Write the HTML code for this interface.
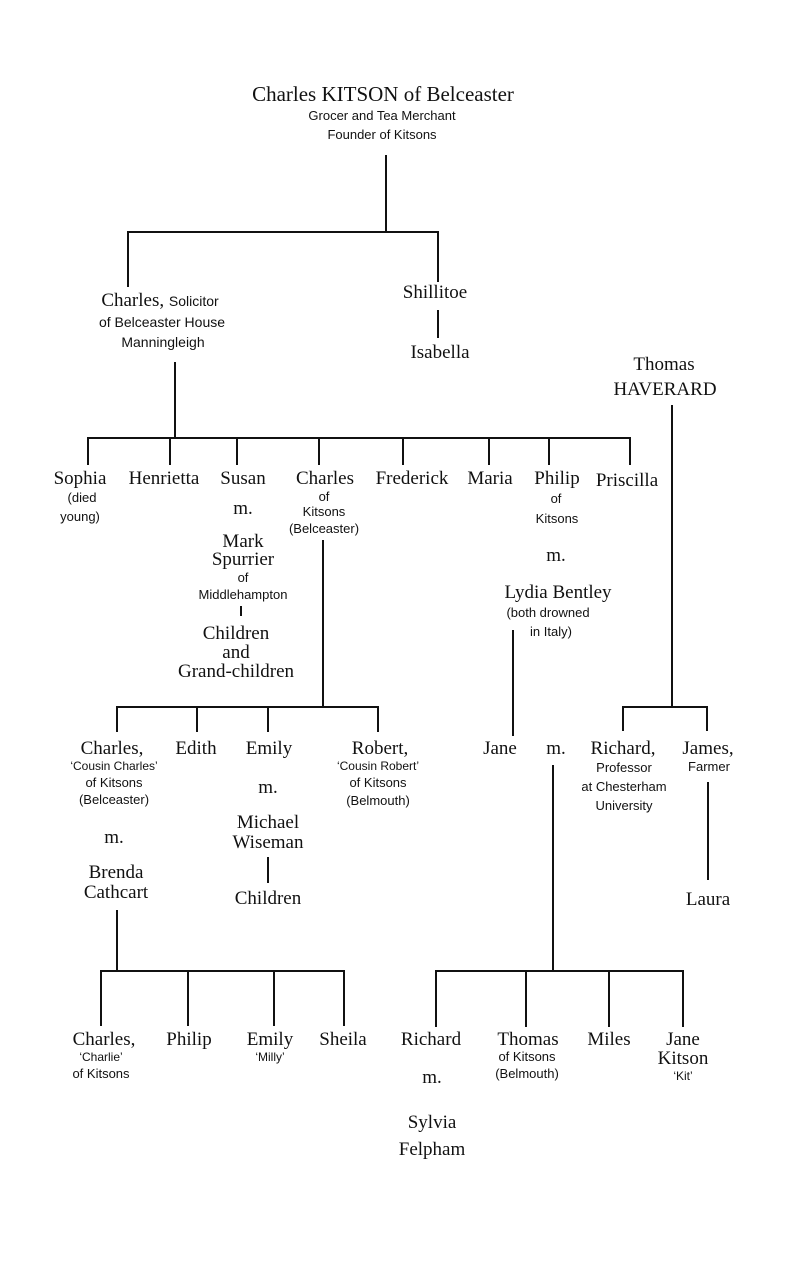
<!DOCTYPE html>
<html><head><meta charset="utf-8"><style>
html,body{margin:0;padding:0;background:#fff}
svg{display:block}
.n{font-family:"Liberation Serif",serif;font-size:19px;fill:#111;text-anchor:middle}
.s{font-family:"Liberation Sans",sans-serif;font-size:13px;fill:#111;text-anchor:middle}
line{stroke:#111;stroke-width:2}
</style></head><body>
<svg width="788" height="1275" viewBox="0 0 788 1275" xmlns="http://www.w3.org/2000/svg">
<text class="n" x="383" y="101" style="font-size:21px">Charles KITSON of Belceaster</text>
<text class="s" x="382" y="120">Grocer and Tea Merchant</text>
<text class="s" x="382" y="139">Founder of Kitsons</text>
<line x1="386" y1="155" x2="386" y2="232"/>
<line x1="127" y1="232" x2="439" y2="232"/>
<line x1="128" y1="231" x2="128" y2="287"/>
<line x1="438" y1="231" x2="438" y2="282"/>
<text class="n" x="160" y="306">Charles, <tspan class="s" style="font-size:14px">Solicitor</tspan></text>
<text class="s" x="162" y="327" style="font-size:14px">of Belceaster House</text>
<text class="s" x="163" y="347" style="font-size:14px">Manningleigh</text>
<text class="n" x="435" y="298">Shillitoe</text>
<line x1="438" y1="310" x2="438" y2="338"/>
<text class="n" x="440" y="358">Isabella</text>
<text class="n" x="664" y="370">Thomas</text>
<text class="n" x="665" y="395">HAVERARD</text>
<line x1="175" y1="362" x2="175" y2="438"/>
<line x1="87" y1="438" x2="631" y2="438"/>
<line x1="88" y1="437" x2="88" y2="465"/>
<line x1="170" y1="437" x2="170" y2="465"/>
<line x1="237" y1="437" x2="237" y2="465"/>
<line x1="319" y1="437" x2="319" y2="465"/>
<line x1="403" y1="437" x2="403" y2="465"/>
<line x1="489" y1="437" x2="489" y2="465"/>
<line x1="549" y1="437" x2="549" y2="465"/>
<line x1="630" y1="437" x2="630" y2="465"/>
<text class="n" x="80" y="484">Sophia</text>
<text class="s" x="82" y="502">(died</text>
<text class="s" x="80" y="521">young)</text>
<text class="n" x="164" y="484">Henrietta</text>
<text class="n" x="243" y="484">Susan</text>
<text class="n" x="243" y="514">m.</text>
<text class="n" x="243" y="547">Mark</text>
<text class="n" x="243" y="565">Spurrier</text>
<text class="s" x="243" y="582">of</text>
<text class="s" x="243" y="599">Middlehampton</text>
<line x1="241" y1="606" x2="241" y2="616"/>
<text class="n" x="236" y="639">Children</text>
<text class="n" x="236" y="658">and</text>
<text class="n" x="236" y="677">Grand-children</text>
<text class="n" x="325" y="484">Charles</text>
<text class="s" x="324" y="501">of</text>
<text class="s" x="324" y="516">Kitsons</text>
<text class="s" x="324" y="533">(Belceaster)</text>
<text class="n" x="412" y="484">Frederick</text>
<text class="n" x="490" y="484">Maria</text>
<text class="n" x="557" y="484">Philip</text>
<text class="s" x="556" y="503">of</text>
<text class="s" x="557" y="523">Kitsons</text>
<text class="n" x="627" y="486">Priscilla</text>
<text class="n" x="556" y="561">m.</text>
<text class="n" x="558" y="598">Lydia Bentley</text>
<text class="s" x="548" y="617">(both drowned</text>
<text class="s" x="551" y="636">in Italy)</text>
<line x1="323" y1="540" x2="323" y2="707"/>
<line x1="672" y1="405" x2="672" y2="707"/>
<line x1="116" y1="707" x2="379" y2="707"/>
<line x1="117" y1="706" x2="117" y2="732"/>
<line x1="197" y1="706" x2="197" y2="732"/>
<line x1="268" y1="706" x2="268" y2="732"/>
<line x1="378" y1="706" x2="378" y2="732"/>
<line x1="622" y1="707" x2="708" y2="707"/>
<line x1="623" y1="706" x2="623" y2="731"/>
<line x1="707" y1="706" x2="707" y2="731"/>
<line x1="513" y1="630" x2="513" y2="736"/>
<text class="n" x="112" y="754">Charles,</text>
<text class="s" x="114" y="770" style="font-size:12px">‘Cousin Charles’</text>
<text class="s" x="114" y="787">of Kitsons</text>
<text class="s" x="114" y="804">(Belceaster)</text>
<text class="n" x="114" y="843">m.</text>
<text class="n" x="116" y="878">Brenda</text>
<text class="n" x="116" y="898">Cathcart</text>
<text class="n" x="196" y="754">Edith</text>
<text class="n" x="269" y="754">Emily</text>
<text class="n" x="268" y="793">m.</text>
<text class="n" x="268" y="828">Michael</text>
<text class="n" x="268" y="848">Wiseman</text>
<line x1="268" y1="857" x2="268" y2="883"/>
<text class="n" x="268" y="904">Children</text>
<text class="n" x="380" y="754">Robert,</text>
<text class="s" x="378" y="770" style="font-size:12px">‘Cousin Robert’</text>
<text class="s" x="378" y="787">of Kitsons</text>
<text class="s" x="378" y="805">(Belmouth)</text>
<text class="n" x="500" y="754">Jane</text>
<text class="n" x="556" y="754">m.</text>
<text class="n" x="623" y="754">Richard,</text>
<text class="s" x="624" y="772">Professor</text>
<text class="s" x="624" y="791">at Chesterham</text>
<text class="s" x="624" y="810">University</text>
<text class="n" x="708" y="754">James,</text>
<text class="s" x="709" y="771">Farmer</text>
<line x1="708" y1="782" x2="708" y2="880"/>
<text class="n" x="708" y="905">Laura</text>
<line x1="553" y1="765" x2="553" y2="971"/>
<line x1="435" y1="971" x2="684" y2="971"/>
<line x1="436" y1="970" x2="436" y2="1027"/>
<line x1="526" y1="970" x2="526" y2="1027"/>
<line x1="609" y1="970" x2="609" y2="1027"/>
<line x1="683" y1="970" x2="683" y2="1027"/>
<line x1="117" y1="910" x2="117" y2="971"/>
<line x1="100" y1="971" x2="345" y2="971"/>
<line x1="101" y1="970" x2="101" y2="1026"/>
<line x1="188" y1="970" x2="188" y2="1026"/>
<line x1="274" y1="970" x2="274" y2="1026"/>
<line x1="344" y1="970" x2="344" y2="1026"/>
<text class="n" x="104" y="1045">Charles,</text>
<text class="s" x="101" y="1061" style="font-size:12px">‘Charlie’</text>
<text class="s" x="101" y="1078">of Kitsons</text>
<text class="n" x="189" y="1045">Philip</text>
<text class="n" x="270" y="1045">Emily</text>
<text class="s" x="270" y="1061" style="font-size:12px">‘Milly’</text>
<text class="n" x="343" y="1045">Sheila</text>
<text class="n" x="431" y="1045">Richard</text>
<text class="n" x="432" y="1083">m.</text>
<text class="n" x="432" y="1128">Sylvia</text>
<text class="n" x="432" y="1155">Felpham</text>
<text class="n" x="528" y="1045">Thomas</text>
<text class="s" x="527" y="1061">of Kitsons</text>
<text class="s" x="527" y="1078">(Belmouth)</text>
<text class="n" x="609" y="1045">Miles</text>
<text class="n" x="683" y="1045">Jane</text>
<text class="n" x="683" y="1064">Kitson</text>
<text class="s" x="683" y="1080" style="font-size:12px">‘Kit’</text>
</svg>
</body></html>
